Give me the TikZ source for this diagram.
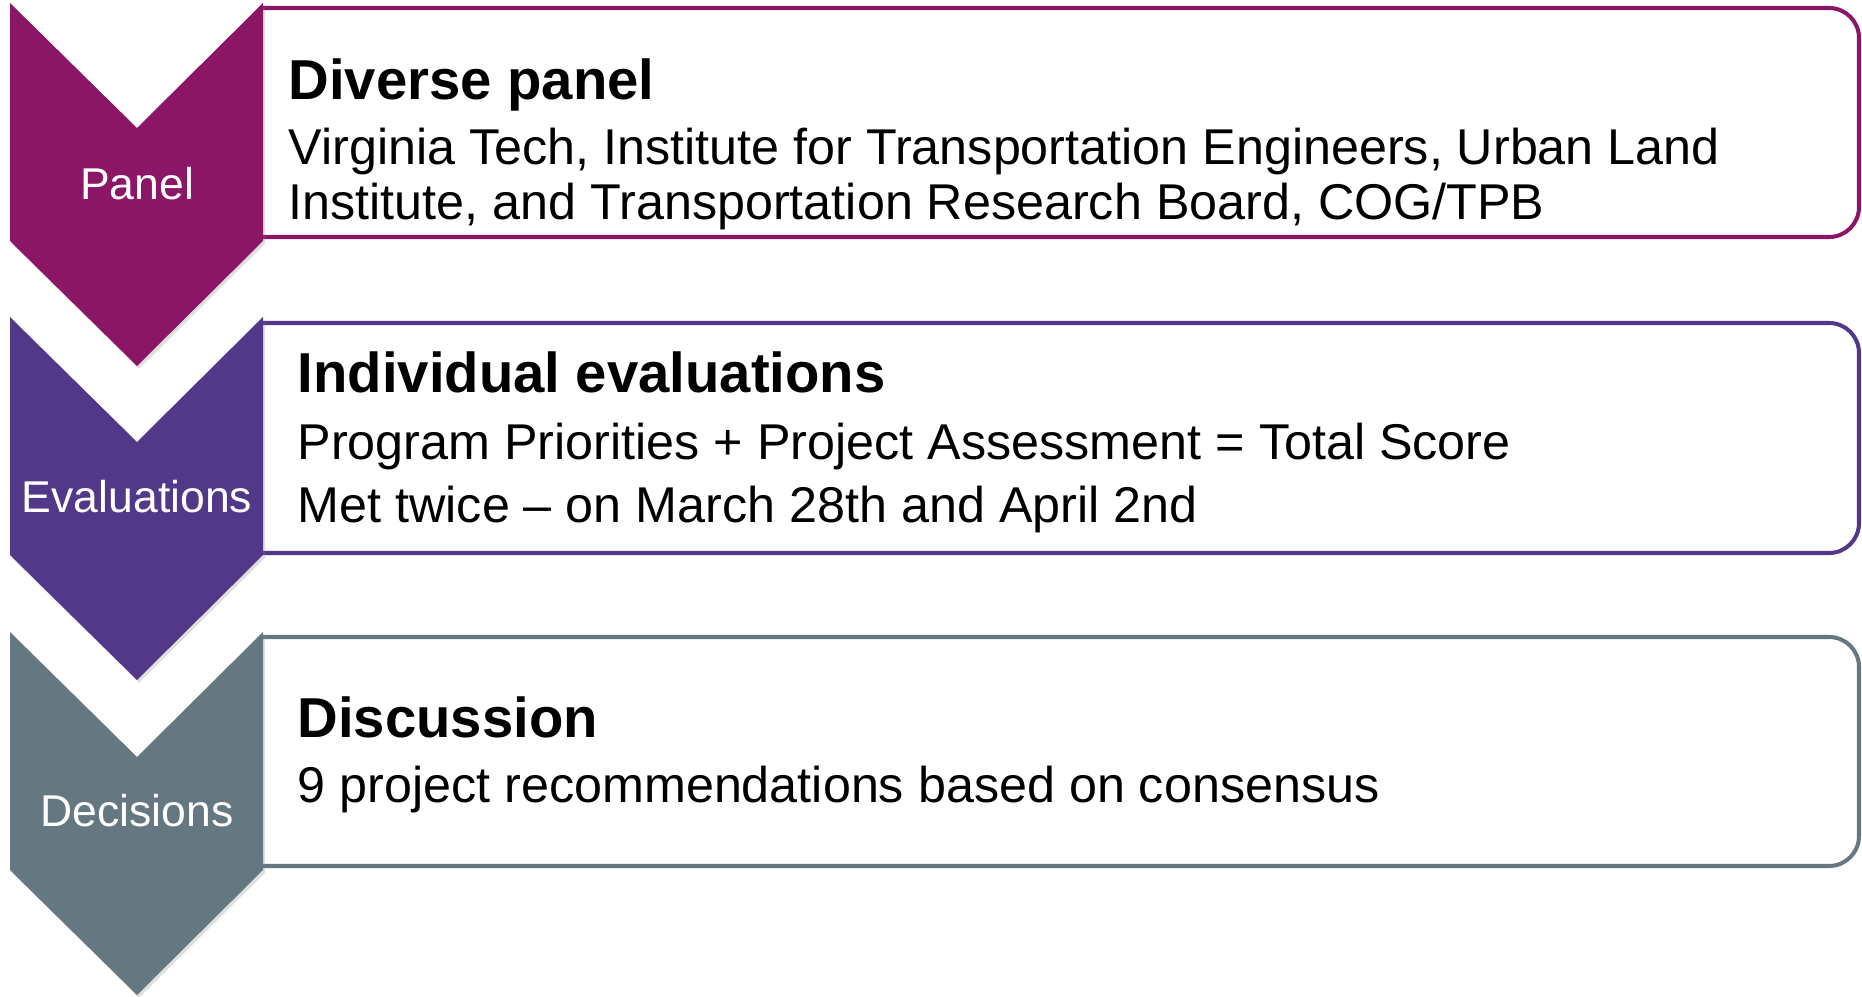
\documentclass[tikz,border=0pt]{standalone}
\usepackage{fontspec}
\setmainfont{Liberation Sans}
\usetikzlibrary{shadows}
\definecolor{panelc}{RGB}{138,22,101}
\definecolor{evalc}{RGB}{81,56,137}
\definecolor{decic}{RGB}{101,119,129}
\begin{document}
\begin{tikzpicture}[x=0.01cm, y=-0.01cm,
    chev/.style={fill=#1, drop shadow={shadow xshift=0.6pt, shadow yshift=-0.8pt, opacity=0.25}},
    stepbox/.style={draw=#1, line width=1.15pt, fill=white, rounded corners=8.5pt},
    lbl/.style={text=white, font=\fontsize{12.66}{15}\selectfont, anchor=base, inner sep=0pt},
    head/.style={font=\fontsize{16}{19}\selectfont\bfseries, anchor=base west, inner sep=0pt},
    body/.style={font=\fontsize{14.3}{17}\selectfont, anchor=base west, inner sep=0pt}]
    \useasboundingbox (0,0) rectangle (1862,997);
    % boxes
    \draw[stepbox=panelc] (263,8) -| (1859,237) -- (263,237);
    \draw[stepbox=evalc] (263,323) -| (1859,553) -- (263,553);
    \draw[stepbox=decic] (263,637) -| (1859,866) -- (263,866);
    % chevrons
    \fill[chev=panelc] (10,3) -- (137,128) -- (263,3) -- (263,241) -- (137,366) -- (10,241) -- cycle;
    \fill[chev=evalc] (10,317) -- (137,442) -- (263,317) -- (263,555) -- (137,680) -- (10,555) -- cycle;
    \fill[chev=decic] (10,632) -- (137,757) -- (263,632) -- (263,870) -- (137,995) -- (10,870) -- cycle;
    % labels
    \node[lbl] (panel) at (137,200) {Panel};
    \node[lbl] (evals) at (137,513) {Evaluations};
    \node[lbl] (decis) at (137,827) {Decisions};
    % texts
    \node[head] (panelhead) at (288,100) {Diverse panel};
    \node[body] (panelone) at (288,165) {Virginia Tech, Institute for Transportation Engineers, Urban Land};
    \node[body] (paneltwo) at (288,220) {Institute, and Transportation Research Board, COG/TPB};
    \node[head] (evalhead) at (297,393) {Individual evaluations};
    \node[body] (evalone) at (297,460) {Program Priorities + Project Assessment = Total Score};
    \node[body] (evaltwo) at (297,523) {Met twice -- on March 28th and April 2nd};
    \node[head] (decihead) at (297,738) {Discussion};
    \node[body] (decione) at (297,803) {9 project recommendations based on consensus};
\end{tikzpicture}
\end{document}
